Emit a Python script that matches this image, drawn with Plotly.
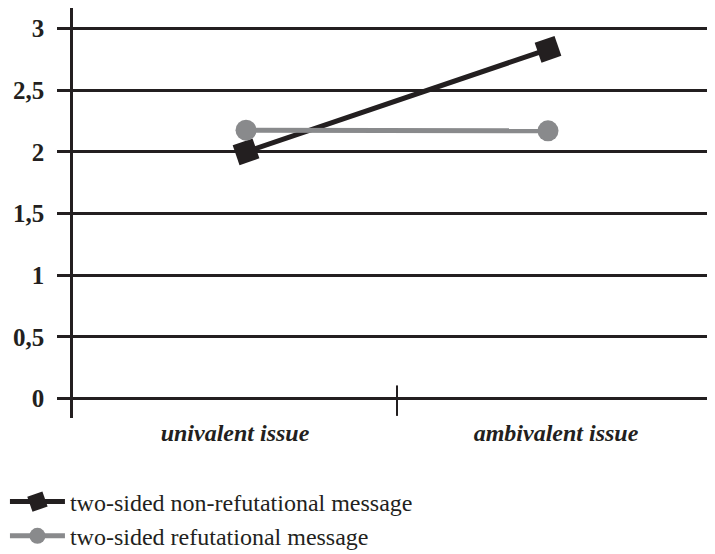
import plotly.graph_objects as go

categories = ["univalent issue", "ambivalent issue"]
non_refutational = [2.0, 2.83]
refutational = [2.175, 2.17]
tick_vals = [0, 0.5, 1, 1.5, 2, 2.5, 3]
tick_text = ["0", "0,5", "1", "1,5", "2", "2,5", "3"]

INK = "#231f20"
GREY = "#898a8c"
SERIF = "'Times New Roman', 'Liberation Serif', Tinos, 'DejaVu Serif', serif"

# numeric category positions; bands are split at the divider
x_pos = list(range(len(categories)))
x_range = [-0.573, 1.553]
divider = 0.5
band_centres = [(x_range[0] + divider) / 2, (divider + x_range[1]) / 2]

fig = go.Figure()
fig.add_trace(go.Scatter(
    x=x_pos, y=non_refutational, mode="lines+markers",
    name="two-sided non-refutational message",
    line=dict(color=INK, width=5),
    marker=dict(symbol="square", size=21, color=INK, angle=-19),
))
fig.add_trace(go.Scatter(
    x=x_pos, y=refutational, mode="lines+markers",
    name="two-sided refutational message",
    line=dict(color=GREY, width=5),
    marker=dict(symbol="circle", size=21, color=GREY),
))

# category divider tick on the baseline
fig.add_shape(type="line", xref="x", yref="y", x0=divider, x1=divider, y0=-0.14, y1=0.107,
              line=dict(color=INK, width=2))

# the page adds an 8px body margin, so the figure is 8px smaller than the window
fig.update_layout(
    width=707, height=546,
    margin=dict(l=65, r=0, t=0, b=136, autoexpand=False),
    paper_bgcolor="white", plot_bgcolor="white",
    font=dict(family=SERIF, color=INK),
    xaxis=dict(
        range=x_range, automargin=False,
        tickmode="array", tickvals=band_centres, ticktext=categories,
        showgrid=False, zeroline=False, showline=False, ticks="",
        tickfont=dict(family=SERIF, size=24, color=INK, weight="bold", style="italic"),
        ticklabelstandoff=-2,
    ),
    yaxis=dict(
        range=[-0.157, 3.165], tickvals=tick_vals, ticktext=tick_text, automargin=False,
        showgrid=True, gridcolor=INK, gridwidth=2.5,
        zeroline=True, zerolinecolor=INK, zerolinewidth=2.5,
        showline=True, linecolor=INK, linewidth=2.5,
        ticks="outside", ticklen=13, tickwidth=2.5, tickcolor=INK,
        tickfont=dict(family=SERIF, size=25, color=INK, weight="bold"),
        ticklabelstandoff=8,
    ),
    legend=dict(
        x=-0.106, xanchor="left", y=-0.15, yanchor="top",
        font=dict(family=SERIF, size=24, color=INK),
        bgcolor="rgba(0,0,0,0)", tracegroupgap=0, itemwidth=55,
    ),
    showlegend=True,
)

fig.write_html("out.html")
